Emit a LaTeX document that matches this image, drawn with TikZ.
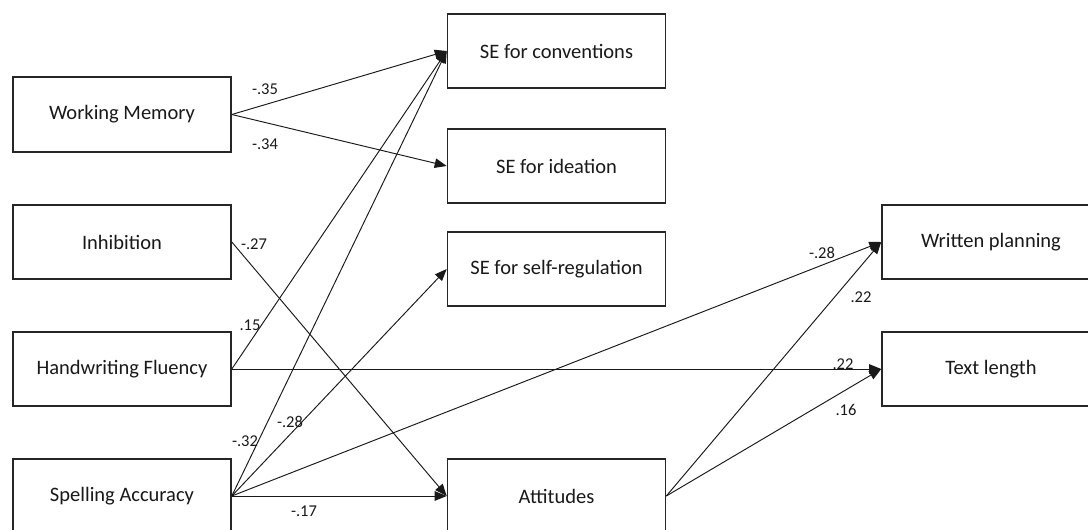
\documentclass[tikz,border=0pt]{standalone}
\usepackage{fontspec}
\setmainfont{Carlito}
\usetikzlibrary{arrows.meta}
\tikzset{
  box/.style={draw=black!85, line width=1.6pt, rectangle, minimum width=218pt, minimum height=74.5pt, inner sep=0pt, font=\fontsize{20.5}{24}\selectfont, text=black!90},
  arr/.style={draw=black!90, line width=0.95pt, -{Triangle[length=12pt,width=9.5pt]}},
  lbl/.style={inner sep=0pt, font=\fontsize{16.5}{20}\selectfont, text=black!90}
}
\begin{document}
\begin{tikzpicture}[x=1pt,y=-1pt]
\useasboundingbox (0,0) rectangle (1088,530);
\fill[white] (0,0) rectangle (1088,530);
% left column
\node[box] (wm)  at (122,114.5) {Working Memory};
\node[box] (inh) at (122,242) {Inhibition};
\node[box] (hf)  at (122,369) {Handwriting Fluency};
\node[box] (sa)  at (122,496) {Spelling Accuracy};
% middle column
\node[box] (sec) at (556.5,51) {SE for conventions};
\node[box] (sei) at (556.5,166) {SE for ideation};
\node[box] (ses) at (556.5,269) {SE for self-regulation};
\node[box] (att) at (556.5,496) {Attitudes};
% right column
\node[box] (wp) at (991,242) {Written planning};
\node[box] (tl) at (991,369) {Text length};
% connectors
\draw[arr] (wm.east) -- (sec.west);
\draw[arr] (wm.east) -- (sei.west);
\draw[arr] (inh.east) -- (att.west);
\draw[arr] (hf.east) -- (sec.west);
\draw[arr] (hf.east) -- (tl.west);
\draw[arr] (sa.east) -- (sec.west);
\draw[arr] (sa.east) -- (ses.west);
\draw[arr] (sa.east) -- (wp.west);
\draw[arr] (sa.east) -- (att.west);
\draw[arr] (att.east) -- (wp.west);
\draw[arr] (att.east) -- (tl.west);
% labels
\node[lbl] (l1) at (265,89) {-.35};
\node[lbl] (l2) at (265,144) {-.34};
\node[lbl] (l3) at (254,244) {-.27};
\node[lbl] (l4) at (250,325) {.15};
\node[lbl] (l5) at (245,441) {-.32};
\node[lbl] (l6) at (290,422) {-.28};
\node[lbl] (l7) at (304,511) {-.17};
\node[lbl] (l8) at (822,253) {-.28};
\node[lbl] (l9) at (861,297) {.22};
\node[lbl] (l10) at (843,364) {.22};
\node[lbl] (l11) at (846,410) {.16};
\end{tikzpicture}
\end{document}
